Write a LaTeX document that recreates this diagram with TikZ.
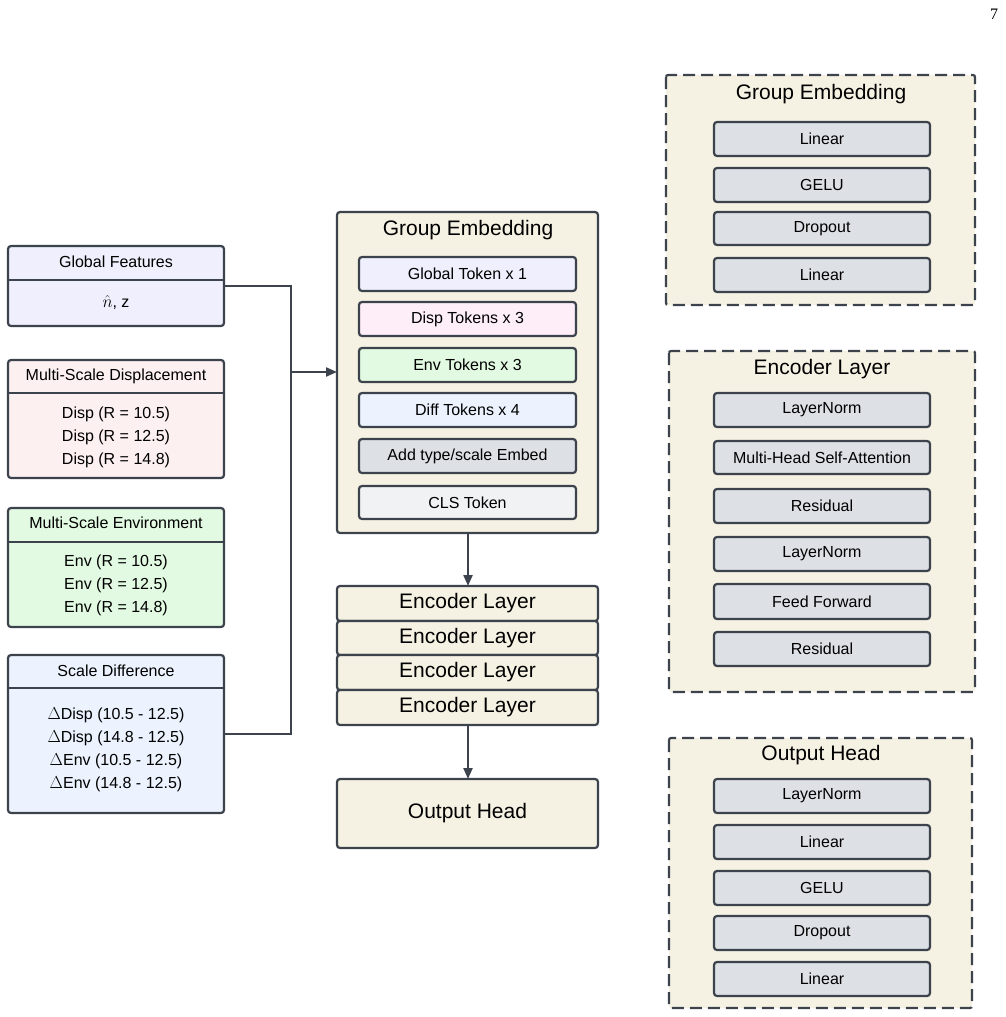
\documentclass[tikz,border=0pt]{standalone}
\usepackage{fontspec}
\setmainfont{Liberation Sans}
\newfontfamily\serifnum{Liberation Serif}
\usetikzlibrary{arrows.meta}
\definecolor{bd}{HTML}{3D434C}
\definecolor{cream}{HTML}{F6F2E3}
\definecolor{lav}{HTML}{EFEFFD}
\definecolor{pinkA}{HTML}{FDF0F0}
\definecolor{pinkB}{HTML}{FDEEF8}
\definecolor{grn}{HTML}{E2FAE2}
\definecolor{blu}{HTML}{ECF3FE}
\definecolor{gry}{HTML}{DDE0E5}
\definecolor{lgry}{HTML}{F1F2F4}
\tikzset{
 bx/.style={draw=bd,line width=2.2pt,rounded corners=3pt},
 dbx/.style={draw=bd,line width=2.2pt,dash pattern=on 12pt off 6pt,fill=cream,rounded corners=2pt},
 ln/.style={draw=bd,line width=2.2pt},
 ar/.style={ln,-{Triangle[length=11pt,width=9pt]}},
 sm/.style={font=\fontsize{16}{23}\selectfont,align=center},
 tt/.style={font=\fontsize{21}{24}\selectfont},
}
\newcommand{\rb}[6]{% name, x1,y1,x2,y2,fill
 \draw[bx,fill=#6] (#2,#3) rectangle (#4,#5);
 \coordinate (#1) at ({(#2+#4)/2},{(#3+#5)/2});}
\begin{document}
\begin{tikzpicture}[x=1pt,y=-1pt]
\useasboundingbox (0,0) rectangle (1006,1017);
\node[font=\serifnum\fontsize{16}{18}\selectfont] (pg) at (994,14) {7};
% left boxes
\rb{gf}{8}{246}{224}{326}{lav}
\draw[ln] (8,280)--(224,280);
\node[sm] (gft) at (116,262) {Global Features};
\node[sm] (gfb) at (116,303) {$\hat{n}$, z};
\rb{md}{8}{360}{224}{478}{pinkA}
\draw[ln] (8,393)--(224,393);
\node[sm] (mdt) at (116,376) {Multi-Scale Displacement};
\node[sm] (mdb) at (116,437) {Disp (R = 10.5)\\Disp (R = 12.5)\\Disp (R = 14.8)};
\rb{me}{8}{508}{224}{627}{grn}
\draw[ln] (8,542)--(224,542);
\node[sm] (met) at (116,523) {Multi-Scale Environment};
\node[sm] (meb) at (116,585) {Env (R = 10.5)\\Env (R = 12.5)\\Env (R = 14.8)};
\rb{sd}{8}{655}{224}{813}{blu}
\draw[ln] (8,688)--(224,688);
\node[sm] (sdt) at (116,671) {Scale Difference};
\node[sm] (sdb) at (116,750) {$\Delta$Disp (10.5 - 12.5)\\$\Delta$Disp (14.8 - 12.5)\\$\Delta$Env (10.5 - 12.5)\\$\Delta$Env (14.8 - 12.5)};
% central
\rb{ge}{337}{212}{598}{533}{cream}
\node[tt] (get) at (468,230) {Group Embedding};
\rb{t1}{359}{257}{576}{291}{lav}\node[sm] at (t1) {Global Token x 1};
\rb{t2}{359}{302}{576}{336}{pinkB}\node[sm] at (t2) {Disp Tokens x 3};
\rb{t3}{359}{348}{576}{382}{grn}\node[sm] at (t3) {Env Tokens x 3};
\rb{t4}{359}{393}{576}{427}{blu}\node[sm] at (t4) {Diff Tokens x 4};
\rb{t5}{359}{439}{576}{473}{gry}\node[sm] at (t5) {Add type/scale Embed};
\rb{t6}{359}{486}{576}{519}{lgry}\node[sm] at (t6) {CLS Token};
\coordinate (j1) at (291,286);
\coordinate (j2) at (291,734);
\coordinate (j3) at (291,372);
\coordinate (gein) at (337,372);
\draw[ln] (224,286)--(j1)--(j2)--(224,734);
\draw[ar] (j3)--(gein);
\rb{e1}{337}{586}{598}{621}{cream}\node[tt] at (e1) {Encoder Layer};
\rb{e2}{337}{621}{598}{655}{cream}\node[tt] at (e2) {Encoder Layer};
\rb{e3}{337}{655}{598}{690}{cream}\node[tt] at (e3) {Encoder Layer};
\rb{e4}{337}{690}{598}{725}{cream}\node[tt] at (e4) {Encoder Layer};
\rb{oh}{337}{779}{598}{848}{cream}\node[tt] at (oh) {Output Head};
\coordinate (geb) at (468,533); \coordinate (e1t) at (468,586);
\coordinate (e4b) at (468,725); \coordinate (oht) at (468,779);
\draw[ar] (geb)--(e1t);
\draw[ar] (e4b)--(oht);
% right
\draw[dbx] (666,75) rectangle (975,305);
\node[tt] (rg) at (821,94) {Group Embedding};
\foreach \n/\a/\b/\t in {r1/122/156/Linear,r2/168/202/GELU,r3/212/245/Dropout,r4/258/292/Linear}{
 \rb{\n}{714}{\a}{930}{\b}{gry}\node[sm] at (\n) {\t};}
\draw[dbx] (669,351) rectangle (975,692);
\node[tt] (re) at (822,369) {Encoder Layer};
\foreach \n/\a/\b/\t in {s1/393/427/LayerNorm,s2/441/474/Multi-Head Self-Attention,s3/489/523/Residual,s4/537/571/LayerNorm,s5/584/619/Feed Forward,s6/632/666/Residual}{
 \rb{\n}{714}{\a}{930}{\b}{gry}\node[sm] at (\n) {\t};}
\draw[dbx] (669,738) rectangle (972,1008);
\node[tt] (ro) at (821,755) {Output Head};
\foreach \n/\a/\b/\t in {o1/779/813/LayerNorm,o2/825/859/Linear,o3/871/905/GELU,o4/916/950/Dropout,o5/962/996/Linear}{
 \rb{\n}{714}{\a}{930}{\b}{gry}\node[sm] at (\n) {\t};}
\end{tikzpicture}
\end{document}
